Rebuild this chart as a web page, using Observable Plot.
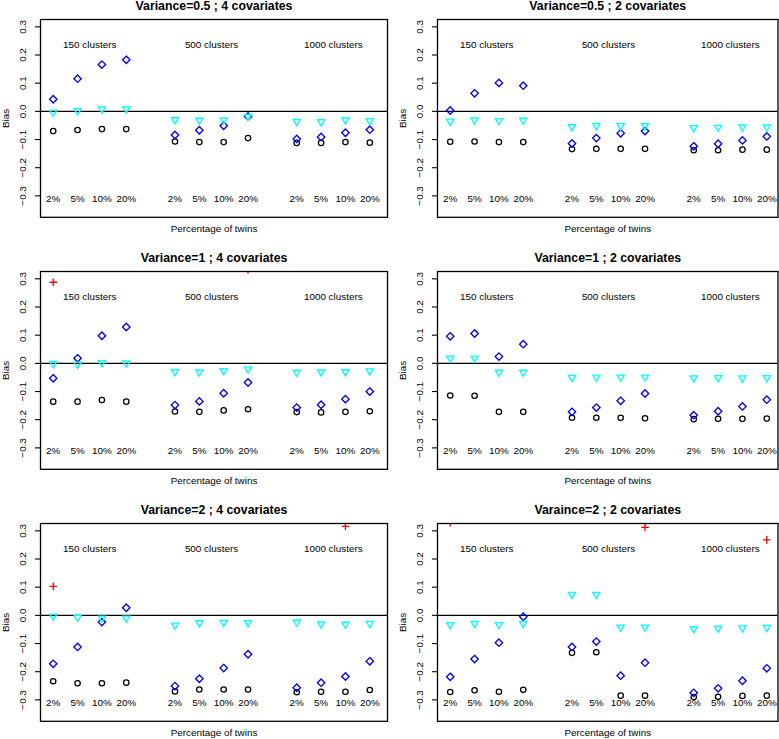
<!DOCTYPE html>
<html><head><meta charset="utf-8">
<script src="https://cdn.jsdelivr.net/npm/d3@7"></script>
<script src="https://cdn.jsdelivr.net/npm/@observablehq/plot@0.6"></script>
<style>
html,body{margin:0;padding:0;background:#fff;}
#chart{position:relative;width:779px;height:739px;overflow:hidden;background:#fff;}
#chart svg{position:absolute;}
</style></head><body><div id="chart"></div>
<script>
// ---------- data ----------
const percentLabels = ["2%", "5%", "10%", "20%"];
const clusterLabels = ["150 clusters", "500 clusters", "1000 clusters"];
const positions = [1, 2, 3, 4, 6, 7, 8, 9, 11, 12, 13, 14];
const yTicks = [-0.3, -0.2, -0.1, 0, 0.1, 0.2, 0.3];
const xLabel = "Percentage of twins";
const yLabel = "Bias";
const titles = [
  "Variance=0.5 ; 4 covariates", "Variance=0.5 ; 2 covariates",
  "Variance=1 ; 4 covariates", "Variance=1 ; 2 covariates",
  "Variance=2 ; 4 covariates", "Varaince=2 ; 2 covariates"
];

// Variance=0.5 ; 4 covariates
const black_v05_c4 = [-0.070, -0.066, -0.063, -0.063, -0.107, -0.109, -0.109, -0.095, -0.112, -0.112, -0.109, -0.111];
const cyan_v05_c4  = [-0.003, 0.002, 0.008, 0.008, -0.030, -0.032, -0.031, -0.018, -0.036, -0.037, -0.031, -0.033];
const blue_v05_c4  = [0.043, 0.116, 0.166, 0.183, -0.084, -0.067, -0.051, -0.018, -0.098, -0.091, -0.076, -0.065];
const red_v05_c4   = [null, null, null, null, null, null, null, null, null, null, null, null];
// Variance=0.5 ; 2 covariates
const black_v05_c2 = [-0.108, -0.107, -0.109, -0.109, -0.134, -0.133, -0.133, -0.133, -0.138, -0.138, -0.136, -0.136];
const cyan_v05_c2  = [-0.035, -0.031, -0.033, -0.032, -0.055, -0.051, -0.051, -0.051, -0.058, -0.057, -0.056, -0.056];
const blue_v05_c2  = [0.003, 0.064, 0.101, 0.091, -0.114, -0.095, -0.078, -0.070, -0.124, -0.115, -0.103, -0.089];
const red_v05_c2   = [null, null, null, null, null, null, null, null, null, null, null, null];
// Variance=1 ; 4 covariates
const black_v1_c4 = [-0.136, -0.136, -0.130, -0.136, -0.171, -0.172, -0.167, -0.163, -0.173, -0.174, -0.172, -0.170];
const cyan_v1_c4  = [-0.001, -0.003, 0.002, 0.001, -0.030, -0.031, -0.026, -0.020, -0.032, -0.031, -0.030, -0.027];
const blue_v1_c4  = [-0.053, 0.018, 0.098, 0.129, -0.148, -0.135, -0.106, -0.068, -0.157, -0.147, -0.127, -0.100];
const red_v1_c4   = [0.288, null, null, null, null, null, null, 0.332, null, null, null, null];
// Variance=1 ; 2 covariates
const black_v1_c2 = [-0.114, -0.115, -0.172, -0.172, -0.193, -0.193, -0.193, -0.195, -0.198, -0.197, -0.197, -0.196];
const cyan_v1_c2  = [0.018, 0.018, -0.032, -0.032, -0.050, -0.049, -0.049, -0.049, -0.052, -0.051, -0.052, -0.051];
const blue_v1_c2  = [0.096, 0.106, 0.024, 0.068, -0.172, -0.157, -0.133, -0.107, -0.184, -0.170, -0.153, -0.129];
const red_v1_c2   = [null, null, null, null, null, null, null, null, null, null, null, null];
// Variance=2 ; 4 covariates
const black_v2_c4 = [-0.234, -0.241, -0.241, -0.239, -0.270, -0.263, -0.263, -0.263, -0.273, -0.271, -0.271, -0.265];
const cyan_v2_c4  = [-0.003, -0.007, -0.010, -0.010, -0.035, -0.026, -0.025, -0.026, -0.024, -0.031, -0.032, -0.029];
const blue_v2_c4  = [-0.172, -0.112, -0.024, 0.027, -0.251, -0.225, -0.187, -0.138, -0.257, -0.239, -0.217, -0.163];
const red_v2_c4   = [0.103, null, null, null, null, null, null, null, null, null, 0.316, null];
// Varaince=2 ; 2 covariates
const black_v2_c2 = [-0.272, -0.266, -0.271, -0.264, -0.133, -0.131, -0.285, -0.285, -0.290, -0.289, -0.286, -0.285];
const cyan_v2_c2  = [-0.033, -0.029, -0.033, -0.029, 0.074, 0.074, -0.042, -0.042, -0.048, -0.046, -0.045, -0.043];
const blue_v2_c2  = [-0.218, -0.155, -0.097, -0.005, -0.112, -0.093, -0.214, -0.168, -0.275, -0.259, -0.232, -0.188];
const red_v2_c2   = [0.329, null, null, null, null, null, null, 0.312, null, null, null, 0.268];

const panels = [
  {title: titles[0], black: black_v05_c4, cyan: cyan_v05_c4, blue: blue_v05_c4, red: red_v05_c4},
  {title: titles[1], black: black_v05_c2, cyan: cyan_v05_c2, blue: blue_v05_c2, red: red_v05_c2},
  {title: titles[2], black: black_v1_c4, cyan: cyan_v1_c4, blue: blue_v1_c4, red: red_v1_c4},
  {title: titles[3], black: black_v1_c2, cyan: cyan_v1_c2, blue: blue_v1_c2, red: red_v1_c2},
  {title: titles[4], black: black_v2_c4, cyan: cyan_v2_c4, blue: blue_v2_c4, red: red_v2_c4},
  {title: titles[5], black: black_v2_c2, cyan: cyan_v2_c2, blue: blue_v2_c2, red: red_v2_c2}
];

// ---------- symbols (R pch 1, 6, 5, 3) ----------
const symDiamond = {draw(ctx) { const a = 3.7; ctx.moveTo(0, -a); ctx.lineTo(a, 0); ctx.lineTo(0, a); ctx.lineTo(-a, 0); ctx.closePath(); }};
const symTriDown = {draw(ctx) { ctx.moveTo(-3.6, -2.1); ctx.lineTo(3.6, -2.1); ctx.lineTo(0, 4.1); ctx.closePath(); }};
const symPlus = {draw(ctx) { const a = 3.8; ctx.moveTo(-a, 0); ctx.lineTo(a, 0); ctx.moveTo(0, -a); ctx.lineTo(0, a); }};

const font = "'Liberation Sans', Arial, Helvetica, sans-serif";
const pctData = positions.map((p, i) => ({pos: p, label: percentLabels[i % 4]}));
const clusterData = clusterLabels.map((label, g) => ({pos: d3.mean(positions.slice(g * 4, g * 4 + 4)), label}));
const fmt = d3.format(".1f");

const container = document.getElementById("chart");
const boxTop0 = 19, rowStep = 252.2, marginTop = 30, marginBottom = 24.2, svgH = 252;

panels.forEach((pn, idx) => {
  const row = Math.floor(idx / 2), col = idx % 2;
  const series = (vals, s) => positions.map((p, i) => ({pos: p, value: vals[i], s})).filter(d => d.value != null);
  const width = col === 0 ? 389 : 382;
  const marginRight = col === 0 ? 2 : 1.5;
  const xDomain = col === 0 ? [0.478, 14.727] : [0.478, 14.46];
  const mid = {textAnchor: "middle", lineAnchor: "middle", fill: "black"};
  const svg = Plot.plot({
    width, height: svgH,
    marginLeft: 40, marginRight, marginTop, marginBottom,
    x: {domain: xDomain, axis: null},
    y: {domain: [-0.376, 0.326]},
    style: {fontFamily: font, fontSize: "9.9px", color: "black", background: "transparent", overflow: "visible"},
    marks: [
      Plot.axisY({ticks: yTicks, tickSize: 5, fill: "none", stroke: "black", strokeWidth: 1.1}),
      Plot.text(yTicks, {...mid, y: d => d, text: d => fmt(d), frameAnchor: "left", dx: -17.7, rotate: -90, fontSize: 9.9}),
      Plot.text([yLabel], {...mid, frameAnchor: "left", dx: -34.8, rotate: -90, fontSize: 9.9}),
      Plot.text([pn.title], {...mid, frameAnchor: "top", dy: -13.6, fontWeight: "bold", fontSize: 12.3}),
      Plot.text([xLabel], {...mid, frameAnchor: "bottom", dy: 12, fontSize: 9.9}),
      Plot.text(clusterData, {...mid, x: "pos", y: () => 0.237, text: "label", fontSize: 9.9}),
      Plot.text(pctData, {...mid, x: "pos", y: () => -0.31, text: "label", fontSize: 9.9}),
      Plot.ruleY([0], {stroke: "black", strokeWidth: 1.3}),
      Plot.dot(series(pn.black, "black"), {x: "pos", y: "value", r: 2.7, symbol: "circle", stroke: "black", fill: "none", strokeWidth: 1.25, clip: true}),
      Plot.dot(series(pn.blue, "blue"), {x: "pos", y: "value", symbol: symDiamond, stroke: "#0000FF", fill: "none", strokeWidth: 1.35, clip: true}),
      Plot.dot(series(pn.cyan, "cyan"), {x: "pos", y: "value", symbol: symTriDown, stroke: "#00FFFF", fill: "none", strokeWidth: 1.35, clip: true}),
      Plot.dot(series(pn.red, "red"), {x: "pos", y: "value", symbol: symPlus, stroke: "#FF0000", fill: "none", strokeWidth: 1.35, clip: true}),
      Plot.frame({stroke: "black", strokeWidth: 1.3})
    ]
  });
  svg.style.left = (col === 0 ? 0 : 397) + "px";
  svg.style.top = (boxTop0 + row * rowStep - marginTop) + "px";
  container.appendChild(svg);
});
</script></body></html>
